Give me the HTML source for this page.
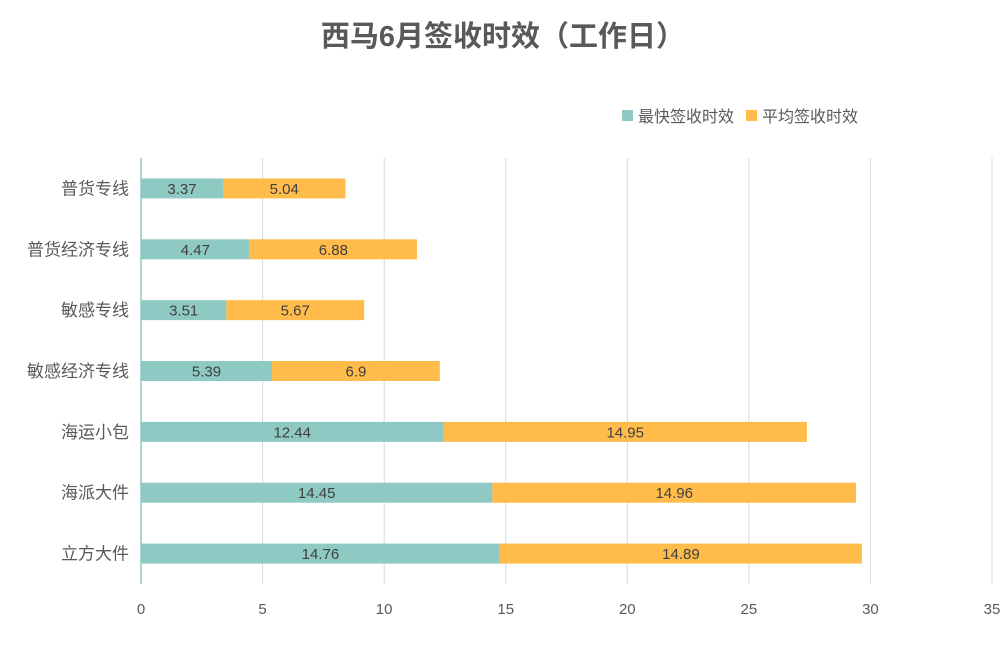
<!DOCTYPE html>
<html><head><meta charset="utf-8"><style>
body{margin:0;background:#fff;}
svg{display:block;font-family:"Liberation Sans","Noto Sans CJK SC",sans-serif;}
</style></head><body>
<svg id="chart" width="1006" height="656">
<text x="503" y="46" text-anchor="middle" font-size="29" font-weight="bold" fill="#595959">西马6月签收时效（工作日）</text>
<g>
<rect x="622" y="110" width="11" height="11" fill="#8FC9C3"/>
<text x="638" y="122" font-size="16" fill="#595959">最快签收时效</text>
<rect x="746" y="110" width="11" height="11" fill="#FFBC4A"/>
<text x="762" y="122" font-size="16" fill="#595959">平均签收时效</text>
</g>
<g id="grid"></g><g id="bars"></g><g id="labels"></g>
</svg>
<script>
const categories=["普货专线","普货经济专线","敏感专线","敏感经济专线","海运小包","海派大件","立方大件"];
const fastest=[3.37,4.47,3.51,5.39,12.44,14.45,14.76];
const average=[5.04,6.88,5.67,6.9,14.95,14.96,14.89];
const ticks=[0,5,10,15,20,25,30,35];
const NS="http://www.w3.org/2000/svg";
const x0=141,pxPer=(992-141)/35,yTop=158,yBottom=584;
const band=(yBottom-yTop)/categories.length,bh=20;
const X=v=>x0+v*pxPer;
function mk(t,a,p){const e=document.createElementNS(NS,t);for(const k in a)e.setAttribute(k,a[k]);p.appendChild(e);return e;}
const grid=document.getElementById('grid'),bars=document.getElementById('bars'),labels=document.getElementById('labels');
ticks.forEach(t=>{
 if(t>0){const l=mk('line',{x1:X(t),x2:X(t),y1:yTop,y2:yBottom,stroke:'#d9d9d9','stroke-width':1},grid);
 
 }
 const tx=mk('text',{x:X(t),y:614,'text-anchor':'middle','font-size':15,fill:'#595959'},grid);
 tx.textContent=t;
 
 
});
const ax=mk('line',{x1:x0,x2:x0,y1:yTop,y2:yBottom,stroke:'#8FC9C3','stroke-width':1.5},grid);


categories.forEach((c,i)=>{
 const cy=yTop+band*(i+0.5);
 const r1=mk('rect',{x:X(0),y:cy-bh/2,width:X(fastest[i])-X(0),height:bh,fill:'#8FC9C3'},bars);
 
 
 const r2=mk('rect',{x:X(fastest[i]),y:cy-bh/2,width:X(fastest[i]+average[i])-X(fastest[i]),height:bh,fill:'#FFBC4A'},bars);
 
 
 const l1=mk('text',{x:X(fastest[i]/2),y:cy+5.5,'text-anchor':'middle','font-size':15,fill:'#404040'},labels);
 l1.textContent=fastest[i];
 
 
 const l2=mk('text',{x:X(fastest[i]+average[i]/2),y:cy+5.5,'text-anchor':'middle','font-size':15,fill:'#404040'},labels);
 l2.textContent=average[i];
 
 
 const cl=mk('text',{x:129,y:cy+6,'text-anchor':'end','font-size':17,fill:'#595959'},labels);
 cl.textContent=c;
 
 
});
</script>
</body></html>
